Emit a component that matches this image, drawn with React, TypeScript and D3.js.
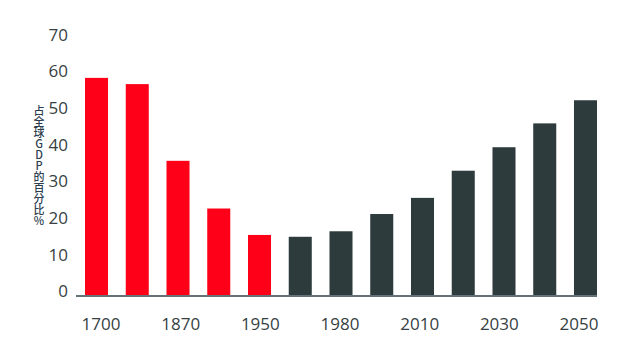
import React from 'react';
import * as d3 from 'd3';

const categories = ['1700', '1820', '1870', '1913', '1950', '1973', '1980', '2000', '2010', '2020', '2030', '2040', '2050'];
const shares = [59.3, 57.6, 36.7, 23.7, 16.5, 16.0, 17.5, 22.2, 26.6, 34.0, 40.4, 46.9, 53.2];
// first five bars are historical (red), the rest dark
const historical = [true, true, true, true, true, false, false, false, false, false, false, false, false];
const xTickLabels = ['1700', '1870', '1950', '1980', '2010', '2030', '2050'];
const yTicks = [0, 10, 20, 30, 40, 50, 60, 70];
const yTitle = '占全球GDP的百分比%';

const W = 617;
const H = 359;

export default function App() {
  const x = d3.scaleBand<string>()
    .domain(categories)
    .range([85, 597])
    .paddingInner(0.435)
    .paddingOuter(0);

  const xLabel = d3.scalePoint<string>()
    .domain(xTickLabels)
    .range([101, 579]);

  const y = d3.scaleLinear()
    .domain([0, 70])
    .range([295.5, 38.6]);

  const font = '"Open Sans", "Noto Sans", sans-serif';

  return (
    <div style={{ position: 'absolute', left: 0, top: 0 }}>
      <svg width={W} height={H} style={{ display: 'block', background: '#fff' }}>
        {/* bars */}
        {categories.map((c, i) => (
          <rect
            key={c}
            x={x(c)}
            y={y(shares[i])}
            width={x.bandwidth()}
            height={y(0) - y(shares[i])}
            fill={historical[i] ? '#ff0019' : '#2e3b3d'}
          />
        ))}

        {/* baseline */}
        <line x1={76} x2={597} y1={y(0) + 0.5} y2={y(0) + 0.5} stroke="#66727a" strokeWidth={2} />

        {/* y tick labels */}
        {yTicks.map(t => (
          <text
            key={t}
            x={68}
            y={y(t) - 4}
            dy="0.35em"
            textAnchor="end"
            fontFamily={font}
            fontSize={17}
            fill="#363f42"
          >
            {t}
          </text>
        ))}

        {/* x tick labels */}
        {xTickLabels.map(l => (
          <text
            key={l}
            x={xLabel(l)}
            y={330}
            textAnchor="middle"
            fontFamily={font}
            fontSize={17}
            fill="#363f42"
          >
            {l}
          </text>
        ))}

        {/* vertical y-axis title */}
        <text
          x={39}
          y={105}
          fontFamily='"Noto Sans CJK SC", "Noto Sans", sans-serif'
          fontSize={11}
          fontWeight={500}
          fill="#2c3e50"
          style={{ writingMode: 'vertical-rl', textOrientation: 'upright' } as React.CSSProperties}
        >
          {yTitle}
        </text>
      </svg>
    </div>
  );
}
